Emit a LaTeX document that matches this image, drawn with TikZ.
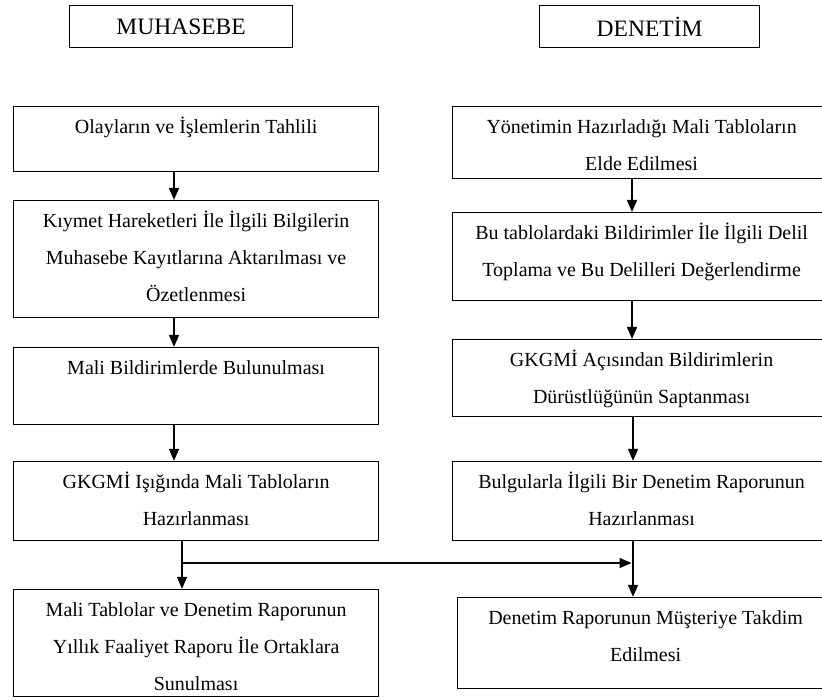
\documentclass[tikz,border=0pt]{standalone}
\usepackage{fontspec}
\setmainfont{Liberation Serif}
\usetikzlibrary{positioning,arrows.meta}

\newcommand{\bodyfont}{\fontsize{20}{37}\selectfont}
\newcommand{\headfont}{\fontsize{23.5}{28}\selectfont}
% fixed box, text set from the top
\newcommand{\stagebox}[3]{\parbox[c][#2][t]{#1}{\centering\rule{0pt}{27pt}#3}}

\begin{document}
\begin{tikzpicture}[x=1pt,y=-1pt]
\tikzstyle{head} = [draw,line width=1.2pt,anchor=north west,minimum height=42pt,font=\headfont]
\tikzstyle{stage} = [draw,line width=1.2pt,anchor=north west,inner sep=0pt,font=\bodyfont]
\tikzstyle{flow} = [line width=1.6pt,-{Triangle[length=12pt,width=10pt]}]

\useasboundingbox (0,0) rectangle (822,700);
\clip (0,0) rectangle (822,700);

\node[head,minimum width=223pt] (muh) at (69,5) {MUHASEBE};
\node[head,minimum width=220pt] (den) at (539,5) {DENETİM};

% muhasebe column
\node[stage] (l1) at (13,106) {\stagebox{365pt}{65pt}{Olayların ve İşlemlerin Tahlili}};
\node[stage,below=27.75pt of l1.south west,anchor=north west] (l2) {\stagebox{365pt}{117pt}{Kıymet Hareketleri İle İlgili Bilgilerin\\Muhasebe Kayıtlarına Aktarılması ve\\Özetlenmesi}};
\node[stage,below=28.75pt of l2.south west,anchor=north west] (l3) {\stagebox{365pt}{77pt}{Mali Bildirimlerde Bulunulması}};
\node[stage,below=35.75pt of l3.south west,anchor=north west] (l4) {\stagebox{365pt}{79pt}{GKGMİ Işığında Mali Tabloların\\Hazırlanması}};
\node[stage,below=47.75pt of l4.south west,anchor=north west] (l5) {\stagebox{365pt}{107pt}{Mali Tablolar ve Denetim Raporunun\\Yıllık Faaliyet Raporu İle Ortaklara\\Sunulması}};

% denetim column
\node[stage] (r1) at (452,106) {\stagebox{378pt}{72pt}{Yönetimin Hazırladığı Mali Tabloların\\Elde Edilmesi}};
\node[stage,below=32.75pt of r1.south west,anchor=north west] (r2) {\stagebox{378pt}{88pt}{Bu tablolardaki Bildirimler İle İlgili Delil\\Toplama ve Bu Delilleri Değerlendirme}};
\node[stage,below=37.75pt of r2.south west,anchor=north west] (r3) {\stagebox{378pt}{77pt}{GKGMİ Açısından Bildirimlerin\\Dürüstlüğünün Saptanması}};
\node[stage,below=43.75pt of r3.south west,anchor=north west] (r4) {\stagebox{378pt}{79pt}{Bulgularla İlgili Bir Denetim Raporunun\\Hazırlanması}};
\node[stage,below=55.75pt of r4.south west,anchor=north west,xshift=5pt] (r5) {\stagebox{376pt}{91pt}{Denetim Raporunun Müşteriye Takdim\\Edilmesi}};

\coordinate (lx) at (174,0);
\coordinate (rx) at (632,0);
\coordinate (rjoin) at (633,0);
\coordinate (lsplit) at (182,563);

\draw[flow] (l1.south -| lx) -- (l2.north -| lx);
\draw[flow] (l2.south -| lx) -- (l3.north -| lx);
\draw[flow] (l3.south -| lx) -- (l4.north -| lx);
\draw[flow] (l4.south -| lsplit) -- (l5.north -| lsplit);
\draw[flow,shorten >=1.5pt] (lsplit) -- (lsplit -| rjoin);

\draw[flow] (r1.south -| rx) -- (r2.north -| rx);
\draw[flow] (r2.south -| rx) -- (r3.north -| rx);
\draw[flow] (r3.south -| rjoin) -- (r4.north -| rjoin);
\draw[flow] (r4.south -| rjoin) -- (r5.north -| rjoin);

\end{tikzpicture}
\end{document}
